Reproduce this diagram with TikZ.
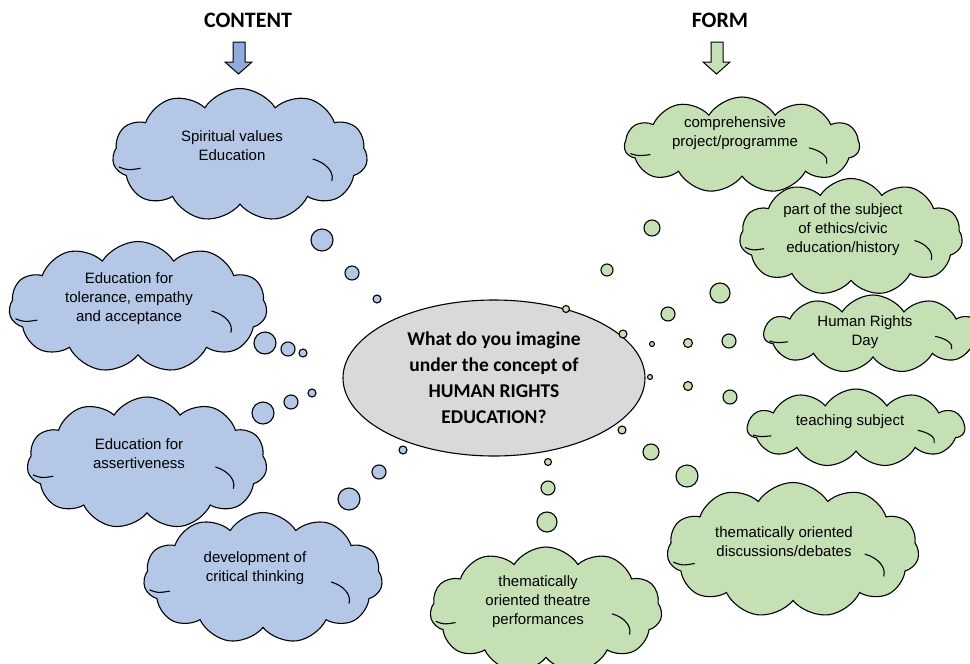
\documentclass[tikz,border=0pt]{standalone}
\usepackage{fontspec}
\setmainfont{Liberation Sans}
\newfontfamily\headfont{Carlito}
\usetikzlibrary{shapes.symbols,shapes.geometric}

\definecolor{contentblue}{HTML}{B4C7E7}
\definecolor{contentarrow}{HTML}{8FAADC}
\definecolor{formgreen}{HTML}{C5E0B4}
\definecolor{questiongray}{HTML}{D9D9D9}

% inner folds of a cloud: #1 node, #2 width, #3 height
\newcommand{\cloudcreases}[3]{%
  \begin{scope}[shift={(#1.center)}, x=#2pt, y=-#3pt, line width=1.1pt]
    \draw (-0.475,0.09) .. controls (-0.44,0.115) .. (-0.39,0.10);
    \draw (0.285,0.03) .. controls (0.34,0.06) and (0.37,0.13) .. (0.36,0.195);
  \end{scope}}

\begin{document}
\begin{tikzpicture}[x=1pt, y=-1pt,
  thought/.style = {cloud, draw, line width=1.1pt, cloud puffs=11,
    cloud puff arc=115, cloud ignores aspect, inner sep=0pt},
  blueThought/.style = {thought, fill=contentblue},
  greenThought/.style = {thought, fill=formgreen},
  thoughtText/.style = {align=center, font=\fontsize{15}{19}\selectfont},
  heading/.style = {font=\headfont\bfseries\fontsize{22}{26}\selectfont},
  bubble/.style = {draw, line width=1.1pt}]
\useasboundingbox (0,0) rectangle (970,664);

% headings and block arrows
\node[heading] (content) at (248,20) {CONTENT};
\node[heading] (form) at (720,20) {FORM};
\draw[fill = contentarrow, line width=1pt] (233,42) -- (245,42) -- (245,62) -- (252,62) -- (238.5,74) -- (225,62) -- (233,62) -- cycle;
\draw[fill = formgreen, line width=1pt] (711,42) -- (723,42) -- (723,62) -- (730,62) -- (716.5,74) -- (703,62) -- (711,62) -- cycle;

% question in the middle
\node[ellipse, draw, line width=1.1pt, fill = questiongray, minimum width=302, minimum height=156,
  align=center, font=\headfont\bfseries\fontsize{19.5}{26}\selectfont] (question) at (494,378)
  {What do you imagine\\under the concept of\\HUMAN RIGHTS\\EDUCATION?};

% content clouds
\node[blueThought, minimum width=255, minimum height=133] (spiritual) at (240,155) {};
\cloudcreases{spiritual}{255}{133}
\node[thoughtText] (spiritualText) at (232,146) {Spiritual values\\Education};
\node[blueThought, minimum width=258, minimum height=131] (tolerance) at (138,307) {};
\cloudcreases{tolerance}{258}{131}
\node[thoughtText] (toleranceText) at (129,299) {Education for\\tolerance, empathy\\and acceptance};
\node[blueThought, minimum width=240, minimum height=132] (assertive) at (147,463) {};
\cloudcreases{assertive}{240}{132}
\node[thoughtText] (assertiveText) at (139,454) {Education for\\assertiveness};
\node[blueThought, minimum width=239, minimum height=131] (critical) at (263,578) {};
\cloudcreases{critical}{239}{131}
\node[thoughtText] (criticalText) at (255,568) {development of\\critical thinking};

% form clouds
\node[greenThought, minimum width=235, minimum height=96] (project) at (742,145) {};
\cloudcreases{project}{235}{96}
\node[thoughtText] (projectText) at (735,133) {comprehensive\\project/programme};
\node[greenThought, minimum width=223, minimum height=117] (subject) at (851,237) {};
\cloudcreases{subject}{223}{117}
\node[thoughtText] (subjectText) at (843,230) {part of the subject\\of ethics/civic\\education/history};
\node[greenThought, minimum width=218, minimum height=78] (rightsDay) at (873,334) {};
\cloudcreases{rightsDay}{218}{78}
\node[thoughtText] (rightsDayText) at (865,332) {Human Rights\\Day};
\node[greenThought, minimum width=217, minimum height=78] (teaching) at (856,428) {};
\cloudcreases{teaching}{217}{78}
\node[thoughtText] (teachingText) at (850,422) {teaching subject};
\node[greenThought, minimum width=252, minimum height=135] (debates) at (793,550) {};
\cloudcreases{debates}{252}{135}
\node[thoughtText] (debatesText) at (784,542) {thematically oriented\\discussions/debates};
\node[greenThought, minimum width=232, minimum height=126] (theatre) at (546,610) {};
\cloudcreases{theatre}{232}{126}
\node[thoughtText] (theatreText) at (538,602) {thematically\\oriented theatre\\performances};

% thought bubbles, content side
\draw[bubble, fill = contentblue] (322,240) circle [radius = 11];
\draw[bubble, fill = contentblue] (352,273) circle [radius = 7];
\draw[bubble, fill = contentblue] (377,299) circle [radius = 4];
\draw[bubble, fill = contentblue] (265,343) circle [radius = 11];
\draw[bubble, fill = contentblue] (288,349) circle [radius = 7];
\draw[bubble, fill = contentblue] (303,353) circle [radius = 4];
\draw[bubble, fill = contentblue] (263,413) circle [radius = 11];
\draw[bubble, fill = contentblue] (291,402) circle [radius = 7];
\draw[bubble, fill = contentblue] (312,393) circle [radius = 4];
\draw[bubble, fill = contentblue] (349,499) circle [radius = 11];
\draw[bubble, fill = contentblue] (379,472) circle [radius = 7];
\draw[bubble, fill = contentblue] (403,450) circle [radius = 4];

% thought bubbles, form side
\draw[bubble, fill = formgreen] (652,228) circle [radius = 8];
\draw[bubble, fill = formgreen] (607,270) circle [radius = 6];
\draw[bubble, fill = formgreen] (566,309) circle [radius = 3.5];
\draw[bubble, fill = formgreen] (720,293) circle [radius = 10];
\draw[bubble, fill = formgreen] (668,314) circle [radius = 7];
\draw[bubble, fill = formgreen] (623,334) circle [radius = 4];
\draw[bubble, fill = formgreen] (729,341) circle [radius = 7];
\draw[bubble, fill = formgreen] (688,343) circle [radius = 4.5];
\draw[bubble, fill = formgreen] (652,344) circle [radius = 2.5];
\draw[bubble, fill = formgreen] (730,397) circle [radius = 7];
\draw[bubble, fill = formgreen] (688,386) circle [radius = 4.5];
\draw[bubble, fill = formgreen] (650,377) circle [radius = 2.5];
\draw[bubble, fill = formgreen] (687,476) circle [radius = 11];
\draw[bubble, fill = formgreen] (651,452) circle [radius = 8];
\draw[bubble, fill = formgreen] (622,430) circle [radius = 4];
\draw[bubble, fill = formgreen] (547,522) circle [radius = 10];
\draw[bubble, fill = formgreen] (548,488) circle [radius = 7];
\draw[bubble, fill = formgreen] (548,462) circle [radius = 3.5];
\end{tikzpicture}
\end{document}
